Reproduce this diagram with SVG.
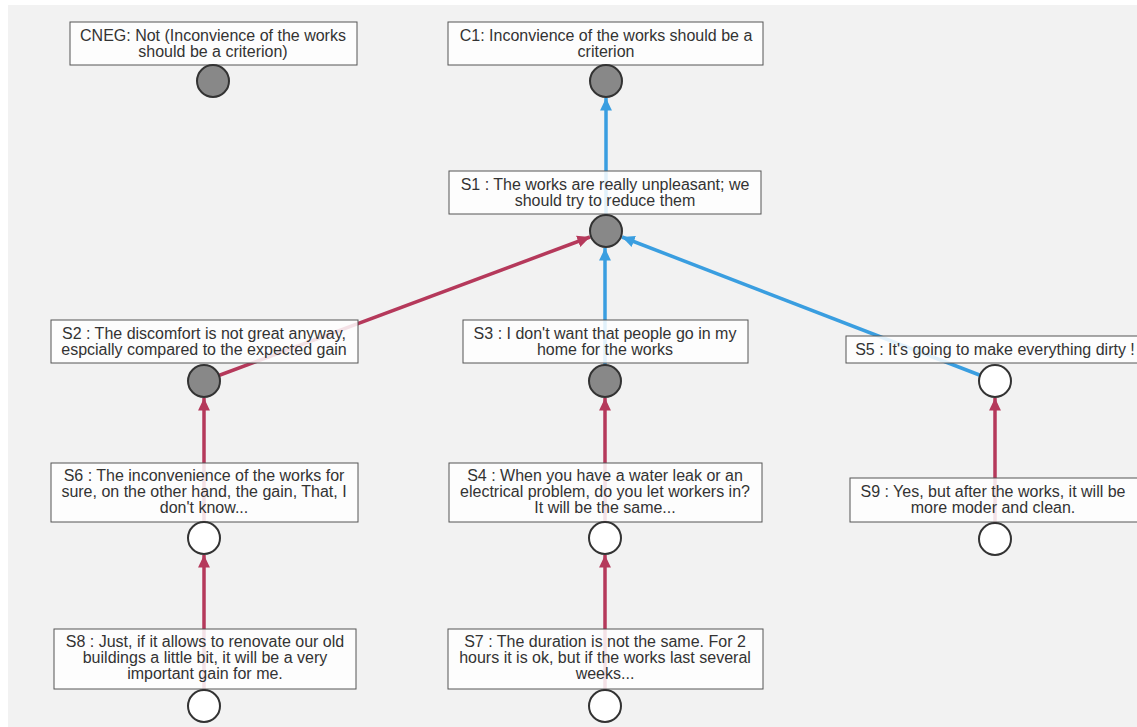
<svg xmlns="http://www.w3.org/2000/svg" width="1137" height="727" viewBox="0 0 1137 727">
<defs>
<style>
.bg{fill:#f2f2f2}
.box{fill:#ffffff;fill-opacity:0.85;stroke:#555;stroke-width:1}
.t{font-family:"Liberation Sans",Arial,sans-serif;font-size:16px;fill:#333;text-anchor:middle}
.gray{fill:#888;stroke:#333;stroke-width:2}
.white{fill:#fff;stroke:#333;stroke-width:2}
.red{stroke:#b5395b;stroke-width:3.5;fill:none;marker-end:url(#ar)}
.blue{stroke:#3a9ee0;stroke-width:3.5;fill:none;marker-end:url(#ab)}
</style>
<marker id="ar" markerWidth="4" markerHeight="4" refX="3.6" refY="2" orient="auto" markerUnits="strokeWidth"><path d="M0,0.3 L3.6,2 L0,3.7 Z" fill="#b5395b"/></marker>
<marker id="ab" markerWidth="4" markerHeight="4" refX="3.6" refY="2" orient="auto" markerUnits="strokeWidth"><path d="M0,0.3 L3.6,2 L0,3.7 Z" fill="#3a9ee0"/></marker>
</defs>
<rect class="bg" x="8" y="5" width="1129" height="722"/>
<g id="connectors">
<line class="blue" x1="606" y1="231" x2="606" y2="98"/>
<line class="red" x1="204" y1="381" x2="590" y2="237"/>
<line class="blue" x1="605" y1="381" x2="605" y2="248"/>
<line class="blue" x1="995" y1="381" x2="622" y2="237"/>
<line class="red" x1="204" y1="538" x2="204" y2="398"/>
<line class="red" x1="605" y1="538" x2="605" y2="398"/>
<line class="red" x1="995" y1="539" x2="995" y2="398"/>
<line class="red" x1="204" y1="706" x2="204" y2="555"/>
<line class="red" x1="605" y1="706" x2="605" y2="555"/>
</g>
<g id="CNEG">
<rect class="box" x="70" y="22" width="287" height="43"/>
<text class="t" x="213" y="41">CNEG: Not (Inconvience of the works</text>
<text class="t" x="213" y="57">should be a criterion)</text>
<circle class="gray" cx="213" cy="81" r="16"/>
</g>
<g id="C1">
<rect class="box" x="448" y="22" width="315" height="43"/>
<text class="t" x="606" y="41">C1: Inconvience of the works should be a</text>
<text class="t" x="606" y="57">criterion</text>
<circle class="gray" cx="606" cy="81" r="16"/>
</g>
<g id="S1">
<rect class="box" x="449" y="171" width="312" height="43"/>
<text class="t" x="605" y="190">S1 : The works are really unpleasant; we</text>
<text class="t" x="605" y="206">should try to reduce them</text>
<circle class="gray" cx="606" cy="231" r="16"/>
</g>
<g id="S2">
<rect class="box" x="51" y="320" width="307" height="43"/>
<text class="t" x="204" y="339">S2 : The discomfort is not great anyway,</text>
<text class="t" x="204" y="355">espcially compared to the expected gain</text>
<circle class="gray" cx="204" cy="381" r="16"/>
</g>
<g id="S3">
<rect class="box" x="463" y="320" width="285" height="43"/>
<text class="t" x="605" y="339">S3 : I don't want that people go in my</text>
<text class="t" x="605" y="355">home for the works</text>
<circle class="gray" cx="605" cy="381" r="16"/>
</g>
<g id="S5">
<rect class="box" x="846" y="336" width="300" height="27"/>
<text class="t" x="995" y="355">S5 : It's going to make everything dirty !</text>
<circle class="white" cx="995" cy="381" r="16"/>
</g>
<g id="S6">
<rect class="box" x="51" y="463" width="307" height="59"/>
<text class="t" x="204" y="481">S6 : The inconvenience of the works for</text>
<text class="t" x="204" y="497">sure, on the other hand, the gain, That, I</text>
<text class="t" x="204" y="513">don't know...</text>
<circle class="white" cx="204" cy="538" r="16"/>
</g>
<g id="S4">
<rect class="box" x="449" y="463" width="313" height="59"/>
<text class="t" x="605" y="481">S4 : When you have a water leak or an</text>
<text class="t" x="605" y="497">electrical problem, do you let workers in?</text>
<text class="t" x="605" y="513">It will be the same...</text>
<circle class="white" cx="605" cy="538" r="16"/>
</g>
<g id="S9">
<rect class="box" x="850" y="478" width="300" height="44"/>
<text class="t" x="993" y="497">S9 : Yes, but after the works, it will be</text>
<text class="t" x="993" y="513">more moder and clean.</text>
<circle class="white" cx="995" cy="539" r="16"/>
</g>
<g id="S8">
<rect class="box" x="54" y="629" width="302" height="60"/>
<text class="t" x="205" y="647">S8 : Just, if it allows to renovate our old</text>
<text class="t" x="205" y="663">buildings a little bit, it will be a very</text>
<text class="t" x="205" y="679">important gain for me.</text>
<circle class="white" cx="204" cy="706" r="16"/>
</g>
<g id="S7">
<rect class="box" x="448" y="629" width="315" height="60"/>
<text class="t" x="605" y="647">S7 : The duration is not the same. For 2</text>
<text class="t" x="605" y="663">hours it is ok, but if the works last several</text>
<text class="t" x="605" y="679">weeks...</text>
<circle class="white" cx="605" cy="706" r="16"/>
</g>
</svg>
